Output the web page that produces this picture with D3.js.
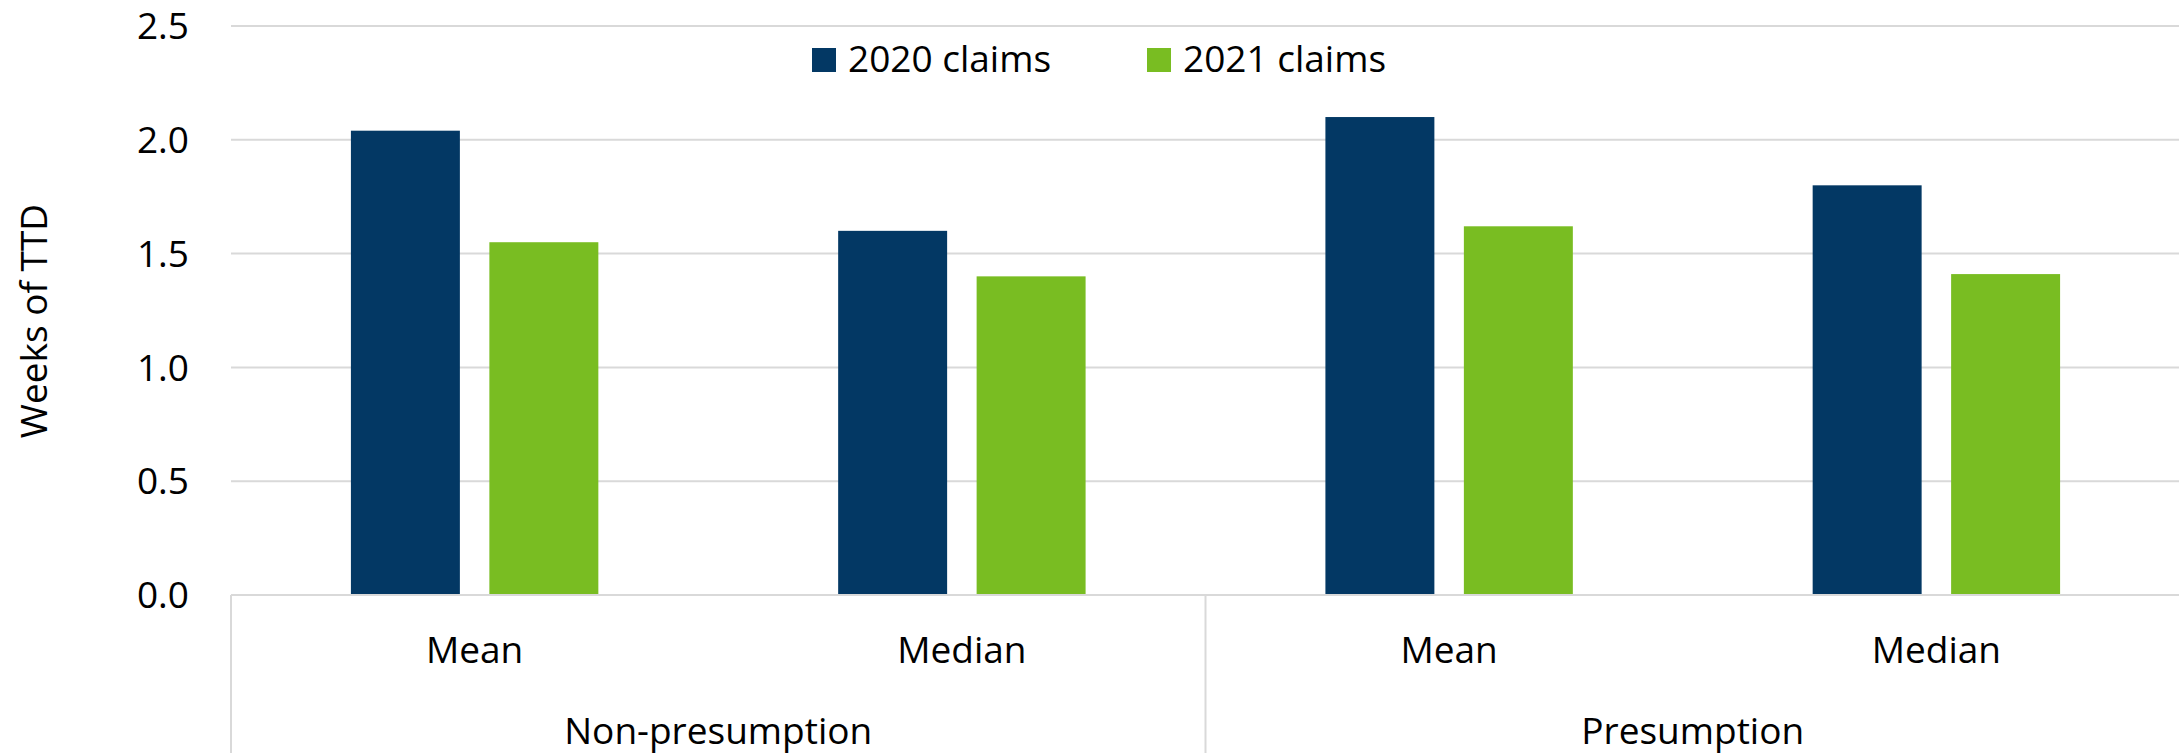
<!DOCTYPE html>
<html>
<head>
<meta charset="utf-8">
<script src="https://cdn.jsdelivr.net/npm/d3@7"></script>
<style>
    body { margin: 0; background: #fff; }
    .text { font-family: "Open Sans", sans-serif; font-size: 37px; fill: #000; }
</style>
</head>
<body>
<div id="chart"></div>
<script>
// Chart values
const groups = ["Non-presumption", "Presumption"];
const stats = ["Mean", "Median"];
const series = ["2020 claims", "2021 claims"];
const values2020 = [2.04, 1.60, 2.10, 1.80];
const values2021 = [1.55, 1.40, 1.62, 1.41];
const yTicks = [0, 0.5, 1.0, 1.5, 2.0, 2.5];
const colors = ["#033864", "#79BD22"];

// One row per (group, stat) category
const rows = [];
groups.forEach((g, gi) => stats.forEach((s, si) => {
    const i = gi * stats.length + si;
    rows.push({ id: `${g}|${s}`, group: g, stat: s, values: [values2020[i], values2021[i]] });
}));

const dimensions = {
    width: 2179,
    height: 753,
    margins: { top: 26, right: -1, bottom: 158, left: 231 }
};
dimensions.bordWidth = dimensions.width - dimensions.margins.left - dimensions.margins.right;
dimensions.bordHeight = dimensions.height - dimensions.margins.top - dimensions.margins.bottom;

const svg = d3.select("#chart")
    .append("svg")
    .attr("width", dimensions.width)
    .attr("height", dimensions.height);

const borders = svg.append("g")
    .attr("transform", `translate(${dimensions.margins.left},${dimensions.margins.top})`);

// Scales
const x0Scale = d3.scaleBand()
    .domain(rows.map(d => d.id))
    .range([0, dimensions.bordWidth])
    .padding(0);

const x1Scale = d3.scaleBand()
    .domain(series)
    .range([0, x0Scale.bandwidth()])
    .paddingInner(0.213)
    .paddingOuter(0.866);

const groupScale = d3.scaleBand()
    .domain(groups)
    .range([0, dimensions.bordWidth]);

const yScale = d3.scaleLinear()
    .domain([0, 2.5])
    .range([dimensions.bordHeight, 0]);

// Gridlines
borders.append("g")
    .selectAll("line")
    .data(yTicks.filter(t => t > 0))
    .enter().append("line")
    .attr("x1", 0)
    .attr("x2", dimensions.bordWidth)
    .attr("y1", d => yScale(d))
    .attr("y2", d => yScale(d))
    .attr("stroke", "#D9D9D9")
    .attr("stroke-width", 2);

// Bars
const bars = borders.selectAll(".cat")
    .data(rows)
    .enter().append("g")
    .attr("class", "cat")
    .attr("transform", d => `translate(${x0Scale(d.id)},0)`);

bars.selectAll("rect")
    .data(d => series.map((s, i) => ({ series: s, value: d.values[i], color: colors[i] })))
    .enter().append("rect")
    .attr("x", d => x1Scale(d.series))
    .attr("width", x1Scale.bandwidth())
    .attr("y", d => yScale(d.value))
    .attr("height", d => dimensions.bordHeight - yScale(d.value))
    .attr("fill", d => d.color);

// Baseline and category dividers
const bottomAxis = borders.append("g")
    .attr("transform", `translate(0,${dimensions.bordHeight})`);

bottomAxis.append("line")
    .attr("x1", 0)
    .attr("x2", dimensions.bordWidth)
    .attr("stroke", "#D9D9D9")
    .attr("stroke-width", 2);

bottomAxis.selectAll(".divider")
    .data(groups)
    .enter().append("line")
    .attr("class", "divider")
    .attr("x1", d => groupScale(d))
    .attr("x2", d => groupScale(d))
    .attr("y1", 0)
    .attr("y2", dimensions.margins.bottom)
    .attr("stroke", "#D9D9D9")
    .attr("stroke-width", 2);

// Stat labels (Mean / Median)
bottomAxis.selectAll(".stat-label")
    .data(rows)
    .enter().append("text")
    .attr("class", "text stat-label")
    .attr("x", d => x0Scale(d.id) + x0Scale.bandwidth() / 2)
    .attr("y", 68)
    .attr("text-anchor", "middle")
    .text(d => d.stat);

// Group labels
bottomAxis.selectAll(".group-label")
    .data(groups)
    .enter().append("text")
    .attr("class", "text group-label")
    .attr("x", d => groupScale(d) + groupScale.bandwidth() / 2)
    .attr("y", 149)
    .attr("text-anchor", "middle")
    .text(d => d);

// Y tick labels
borders.append("g")
    .selectAll("text")
    .data(yTicks)
    .enter().append("text")
    .attr("class", "text")
    .attr("x", -42)
    .attr("y", d => yScale(d))
    .attr("dy", "0.357em")
    .attr("text-anchor", "end")
    .text(d => d3.format(".1f")(d));

// Y-axis label
svg.append("text")
    .attr("transform", `translate(47, 321) rotate(-90)`)
    .attr("text-anchor", "middle")
    .attr("class", "text")
    .text("Weeks of TTD");

// Legend
const legend = svg.append("g")
    .attr("transform", "translate(812, 48)");

const legendItems = legend.selectAll(".legend-item")
    .data(series)
    .enter().append("g")
    .attr("class", "legend-item")
    .attr("transform", (d, i) => `translate(${i * 335}, 0)`);

legendItems.append("rect")
    .attr("width", 24)
    .attr("height", 24)
    .attr("fill", (d, i) => colors[i]);

legendItems.append("text")
    .attr("class", "text")
    .attr("x", 36)
    .attr("y", 24)
    .text(d => d);
</script>
</body>
</html>
